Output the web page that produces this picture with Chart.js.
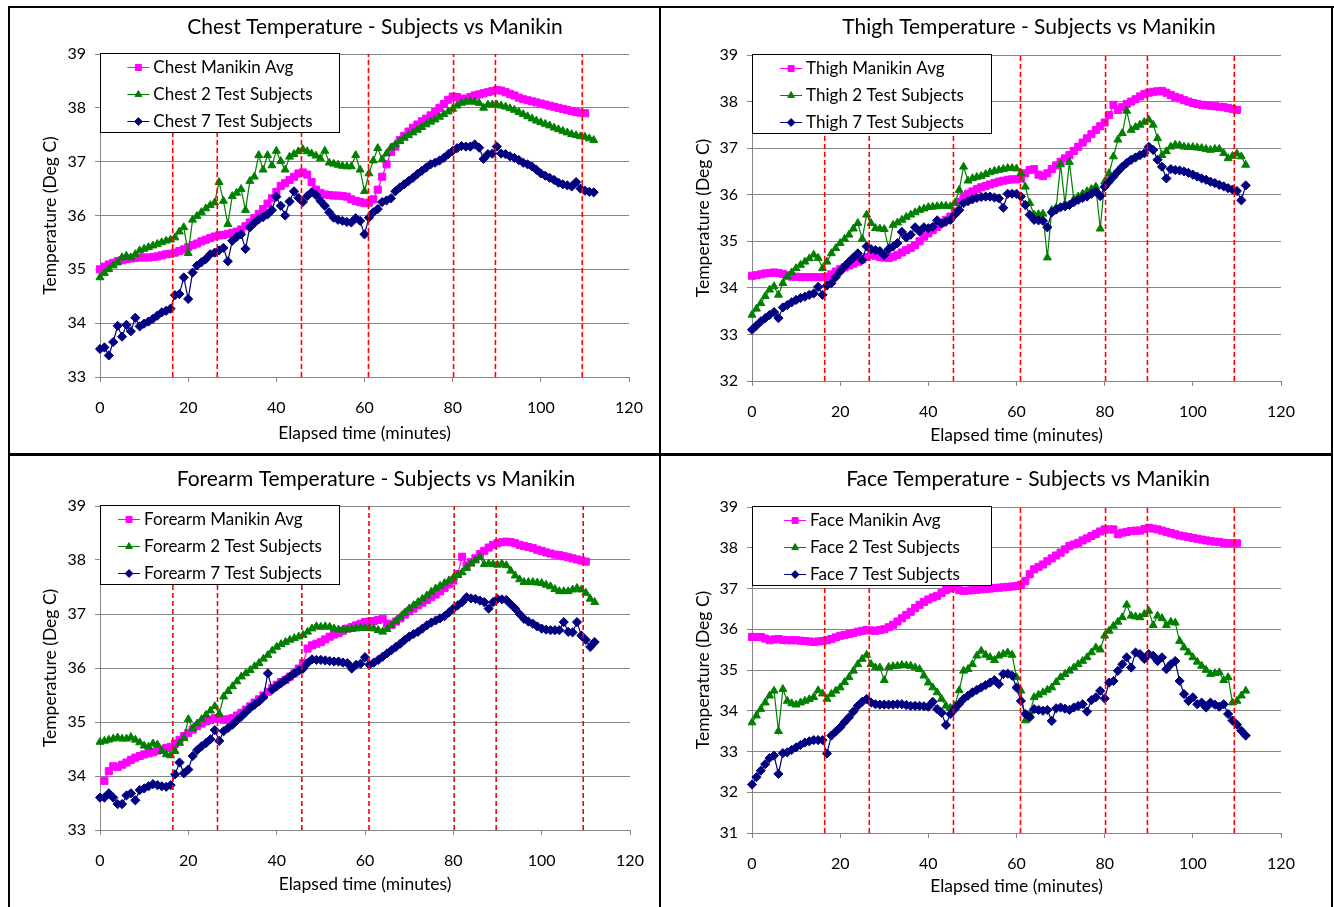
<!DOCTYPE html>
<html><head><meta charset="utf-8">
<script src="https://cdn.jsdelivr.net/npm/chart.js@4.4.0/dist/chart.umd.min.js"></script>
<style>
html,body{margin:0;padding:0;background:#fff;}
body{width:1334px;height:907px;position:relative;overflow:hidden;}
canvas{position:absolute;}
.ln{position:absolute;background:#000;}
</style></head><body>
<canvas id="c1" width="650" height="447" style="left:10px;top:8px;width:650px;height:447px"></canvas>
<canvas id="c2" width="672" height="447" style="left:660px;top:8px;width:672px;height:447px"></canvas>
<canvas id="c3" width="650" height="452" style="left:10px;top:455px;width:650px;height:452px"></canvas>
<canvas id="c4" width="672" height="452" style="left:660px;top:455px;width:672px;height:452px"></canvas>
<div class="ln" style="left:8px;top:6px;width:1326px;height:2px"></div>
<div class="ln" style="left:8px;top:6px;width:2px;height:901px"></div>
<div class="ln" style="left:1331px;top:6px;width:2px;height:901px"></div>
<div class="ln" style="left:659px;top:6px;width:2px;height:901px"></div>
<div class="ln" style="left:8px;top:453px;width:1325px;height:3px"></div>
<script>
const minutes = [0,1,2,3,4,5,6,7,8,9,10,11,12,13,14,15,16,17,18,19,20,21,22,23,24,25,26,27,28,29,30,31,32,33,34,35,36,37,38,39,40,41,42,43,44,45,46,47,48,49,50,51,52,53,54,55,56,57,58,59,60,61,62,63,64,65,66,67,68,69,70,71,72,73,74,75,76,77,78,79,80,81,82,83,84,85,86,87,88,89,90,91,92,93,94,95,96,97,98,99,100,101,102,103,104,105,106,107,108,109,110,111,112];
const phaseMarks = [16.5, 26.6, 45.7, 60.9, 80.2, 89.7, 109.4];
const seriesSuffix = ["Manikin Avg", "2 Test Subjects", "7 Test Subjects"];

const chestRange = [33, 39];
const chestManikin = [35.00,35.05,35.09,35.12,35.15,35.17,35.19,35.20,35.21,35.22,
 35.22,35.22,35.23,35.24,35.26,35.28,35.29,35.31,35.34,35.37,
 35.41,35.45,35.48,35.52,35.55,35.58,35.61,35.63,35.64,35.66,
 35.68,35.70,35.74,35.80,35.87,35.95,36.03,36.12,36.22,36.32,
 36.44,36.55,36.60,36.66,36.72,36.78,36.80,36.76,36.62,36.48,
 36.42,36.39,36.38,36.37,36.37,36.36,36.35,36.30,36.27,36.25,
 36.23,36.24,36.30,36.48,36.72,36.95,37.18,37.28,37.40,37.48,
 37.56,37.63,37.69,37.75,37.80,37.86,37.92,38.00,38.07,38.15,
 38.21,38.20,38.17,38.17,38.20,38.23,38.25,38.27,38.29,38.31,
 38.33,38.32,38.29,38.26,38.23,38.19,38.16,38.14,38.12,38.10,
 38.08,38.06,38.04,38.02,38.00,37.98,37.96,37.94,37.92,37.91,
 37.90,null,null];
const chest2 = [34.85,34.93,35.00,35.07,35.13,35.22,35.25,35.22,35.28,35.35,
 35.38,35.41,35.44,35.47,35.50,35.53,35.55,35.59,35.70,35.78,
 35.30,35.92,35.99,36.06,36.13,36.19,36.24,36.62,36.27,35.84,
 36.36,36.42,36.49,36.10,36.64,36.72,37.12,36.85,37.12,36.93,
 37.20,37.01,36.85,37.09,37.14,37.19,37.23,37.19,37.15,37.11,
 37.06,37.20,36.98,36.96,36.94,36.92,36.91,36.91,37.12,36.85,
 36.45,36.78,37.02,37.25,37.04,37.15,37.26,37.32,37.38,37.44,
 37.49,37.54,37.59,37.64,37.69,37.74,37.78,37.83,37.88,37.93,
 37.98,38.04,38.09,38.11,38.12,38.11,38.09,38.00,38.06,38.06,
 38.06,38.04,38.02,37.99,37.96,37.92,37.88,37.84,37.80,37.76,
 37.73,37.70,37.67,37.63,37.60,37.57,37.54,37.51,37.49,37.47,
 37.46,37.43,37.40];
const chest7 = [33.52,33.55,33.40,33.65,33.95,33.75,33.97,33.85,34.10,33.94,
 33.99,34.03,34.08,34.14,34.20,34.23,34.27,34.52,34.54,34.85,
 34.45,34.94,35.07,35.13,35.19,35.28,35.31,35.35,35.40,35.15,
 35.53,35.60,35.65,35.38,35.78,35.86,35.93,35.97,36.02,36.10,
 36.35,36.18,36.00,36.26,36.45,36.33,36.25,36.36,36.43,36.38,
 36.27,36.18,36.06,35.96,35.92,35.90,35.88,35.87,35.95,35.90,
 35.65,35.96,36.06,36.12,36.25,36.28,36.32,36.45,36.52,36.58,
 36.64,36.70,36.77,36.83,36.89,36.95,36.98,37.02,37.07,37.14,
 37.20,37.25,37.29,37.28,37.28,37.32,37.26,37.05,37.14,37.15,
 37.28,37.15,37.14,37.10,37.07,37.03,36.98,36.95,36.91,36.85,
 36.78,36.74,36.70,36.66,36.61,36.58,36.56,36.54,36.62,36.50,
 36.46,36.44,36.43];

const thighRange = [32, 39];
const thighManikin = [34.26,34.27,34.29,34.31,34.32,34.33,34.32,34.30,34.27,34.24,
 34.24,34.23,34.23,34.23,34.23,34.23,34.23,34.24,34.29,34.35,
 34.40,34.44,34.48,34.52,34.56,34.61,34.66,34.71,34.69,34.66,
 34.65,34.64,34.67,34.71,34.76,34.81,34.86,34.92,35.00,35.10,
 35.17,35.24,35.31,35.39,35.46,35.53,35.64,35.85,35.96,36.02,
 36.07,36.12,36.16,36.19,36.22,36.25,36.28,36.30,36.32,36.33,
 36.33,36.35,36.46,36.53,36.55,36.43,36.40,36.46,36.55,36.63,
 36.71,36.78,36.85,36.94,37.03,37.12,37.21,37.30,37.39,37.47,
 37.55,37.71,37.93,37.82,37.88,37.95,38.00,38.05,38.11,38.16,
 38.19,38.21,38.22,38.23,38.19,38.14,38.10,38.07,38.03,38.00,
 37.97,37.95,37.93,37.92,37.91,37.90,37.89,37.88,37.86,37.84,
 37.82,null,null];
const thigh2 = [33.42,33.55,33.67,33.82,33.96,34.03,33.85,34.10,34.24,34.33,
 34.42,34.49,34.56,34.63,34.71,34.64,34.42,34.56,34.74,34.85,
 34.96,35.05,35.14,35.27,35.39,35.05,35.57,35.39,35.28,35.27,
 35.26,34.85,35.35,35.40,35.46,35.52,35.57,35.62,35.67,35.70,
 35.73,35.74,35.75,35.76,35.76,35.75,35.82,36.10,36.60,36.30,
 36.35,36.38,36.40,36.44,36.48,36.51,36.53,36.55,36.57,36.57,
 36.56,36.46,36.17,35.82,35.57,35.58,35.59,34.65,35.67,35.72,
 36.65,35.80,36.70,35.90,35.96,36.02,36.07,36.12,36.17,35.27,
 36.28,36.46,36.82,37.18,37.32,37.80,37.39,37.45,37.50,37.56,
 37.61,37.50,37.21,36.85,36.93,37.03,37.07,37.06,37.03,37.02,
 37.02,37.01,37.00,36.98,36.96,36.98,36.98,36.89,36.78,36.83,
 36.88,36.82,36.64];
const thigh7 = [33.10,33.19,33.28,33.35,33.42,33.48,33.35,33.58,33.63,33.69,
 33.74,33.78,33.81,33.85,33.88,34.02,33.85,34.05,34.10,34.23,
 34.35,34.46,34.56,34.65,34.74,34.60,34.89,34.83,34.81,34.79,
 34.70,34.83,34.89,34.96,35.20,35.08,35.14,35.30,35.21,35.30,
 35.28,35.31,35.45,35.38,35.42,35.46,35.57,35.67,35.82,35.86,
 35.90,35.93,35.95,35.96,35.96,35.94,35.92,35.72,36.02,36.02,
 36.02,35.96,35.78,35.57,35.46,35.45,35.44,35.30,35.62,35.68,
 35.73,35.75,35.78,35.84,35.89,35.93,35.96,36.02,36.07,35.97,
 36.17,36.28,36.39,36.50,36.60,36.68,36.75,36.80,36.85,36.89,
 37.03,36.96,36.75,36.60,36.35,36.55,36.53,36.52,36.50,36.47,
 36.43,36.39,36.35,36.32,36.28,36.25,36.21,36.18,36.14,36.11,
 36.08,35.88,36.20];

const forearmRange = [33, 39];
const forearmManikin = [null,33.91,34.09,34.18,34.17,34.21,34.25,34.30,34.34,34.37,
 34.40,34.42,34.44,34.47,34.49,34.52,34.54,34.60,34.67,34.74,
 34.80,34.86,34.92,34.97,35.01,35.04,35.07,35.06,35.04,35.05,
 35.07,35.12,35.17,35.23,35.29,35.36,35.42,35.49,35.56,35.63,
 35.69,35.74,35.78,35.84,35.90,35.99,36.09,36.36,36.42,36.45,
 36.48,36.53,36.58,36.62,36.65,36.69,36.73,36.76,36.79,36.82,
 36.85,36.86,36.87,36.89,36.91,36.82,36.80,36.86,36.92,36.99,
 37.05,37.10,37.16,37.21,37.26,37.31,37.36,37.42,37.48,37.55,
 37.62,37.74,38.06,37.90,37.96,38.03,38.11,38.17,38.23,38.28,
 38.31,38.33,38.34,38.33,38.31,38.28,38.26,38.24,38.22,38.19,
 38.17,38.14,38.12,38.10,38.09,38.07,38.05,38.03,38.01,37.99,
 37.97,null,null];
const forearm2 = [34.63,34.65,34.67,34.69,34.71,34.69,34.69,34.72,34.67,34.62,
 34.56,34.54,34.60,34.58,34.46,34.40,34.38,34.46,34.61,34.70,
 35.05,34.88,34.97,35.05,35.13,35.21,35.29,35.15,35.47,35.57,
 35.66,35.75,35.84,35.90,35.96,36.03,36.09,36.17,36.24,36.32,
 36.39,36.44,36.48,36.52,36.55,36.58,36.61,36.67,36.73,36.77,
 36.76,36.77,36.76,36.73,36.71,36.71,36.71,36.72,36.73,36.74,
 36.74,36.74,36.73,36.70,36.67,36.72,36.79,36.87,36.94,37.02,
 37.10,37.16,37.22,37.28,37.34,37.41,37.47,37.52,37.57,37.62,
 37.67,37.72,37.77,37.85,37.93,37.99,38.05,37.92,37.93,37.92,
 37.91,37.93,37.90,37.80,37.71,37.64,37.59,37.59,37.59,37.58,
 37.57,37.54,37.51,37.46,37.42,37.42,37.42,37.45,37.48,37.45,
 37.39,37.28,37.22];
const forearm7 = [33.60,33.60,33.68,33.60,33.48,33.48,33.64,33.68,33.55,33.74,
 33.77,33.81,33.85,33.83,33.81,33.80,33.83,34.03,34.25,34.05,
 34.12,34.37,34.48,34.55,34.61,34.68,34.85,34.65,34.83,34.89,
 34.95,35.03,35.10,35.18,35.26,35.32,35.38,35.46,35.90,35.60,
 35.66,35.72,35.78,35.84,35.90,35.95,35.99,36.09,36.16,36.15,
 36.15,36.14,36.13,36.12,36.12,36.10,36.09,35.99,36.06,36.08,
 36.20,36.06,36.10,36.15,36.21,36.27,36.33,36.39,36.45,36.52,
 36.58,36.63,36.67,36.73,36.79,36.84,36.88,36.92,36.96,37.03,
 37.10,37.16,37.22,37.31,37.29,37.28,37.25,37.22,37.10,37.22,
 37.28,37.27,37.26,37.18,37.10,37.00,36.91,36.86,36.82,36.77,
 36.73,36.71,36.70,36.70,36.70,36.85,36.67,36.66,36.85,36.60,
 36.52,36.39,36.48];

const faceRange = [31, 39];
const faceManikin = [35.81,35.81,35.81,35.77,35.73,35.75,35.76,35.74,35.73,35.73,
 35.73,35.72,35.71,35.70,35.69,35.70,35.71,35.73,35.76,35.80,
 35.84,35.86,35.88,35.91,35.94,35.96,35.98,35.97,35.96,35.98,
 36.00,36.05,36.11,36.19,36.27,36.35,36.43,36.52,36.60,36.67,
 36.73,36.78,36.82,36.89,36.96,37.00,37.04,36.96,36.94,36.95,
 36.96,36.97,36.98,36.99,37.00,37.01,37.02,37.03,37.04,37.05,
 37.06,37.09,37.18,37.35,37.47,37.53,37.59,37.67,37.74,37.81,
 37.88,37.96,38.04,38.08,38.12,38.18,38.23,38.29,38.34,38.40,
 38.45,38.45,38.45,38.33,38.37,38.39,38.41,38.42,38.42,38.46,
 38.49,38.47,38.45,38.42,38.39,38.36,38.33,38.30,38.28,38.26,
 38.24,38.22,38.20,38.18,38.16,38.15,38.14,38.12,38.11,38.11,
 38.11,null,null];
const face2 = [33.71,33.88,34.04,34.20,34.37,34.49,33.50,34.53,34.24,34.18,
 34.15,34.20,34.24,34.28,34.33,34.50,34.42,34.29,34.41,34.49,
 34.57,34.70,34.82,34.98,35.14,35.27,35.37,35.14,35.06,35.06,
 34.75,35.07,35.09,35.10,35.12,35.11,35.10,35.06,35.02,34.86,
 34.69,34.57,34.45,34.29,34.12,34.07,34.12,34.50,34.98,35.02,
 35.14,35.35,35.47,35.37,35.31,35.24,35.35,35.39,35.43,35.37,
 34.82,34.49,33.76,33.92,34.33,34.39,34.45,34.51,34.57,34.70,
 34.82,34.90,34.98,35.06,35.14,35.22,35.31,35.43,35.55,35.50,
 35.84,35.96,36.08,36.18,36.29,36.60,36.33,36.31,36.29,36.37,
 36.45,36.10,36.33,36.27,36.10,36.18,36.16,35.71,35.55,35.43,
 35.31,35.20,35.10,35.00,34.90,34.92,34.94,34.75,34.82,34.20,
 34.24,34.37,34.49];
const face7 = [32.19,32.37,32.53,32.69,32.84,32.90,32.45,32.96,32.98,33.04,
 33.10,33.16,33.22,33.25,33.28,33.28,33.28,32.95,33.39,33.49,
 33.59,33.72,33.84,33.98,34.12,34.22,34.29,34.20,34.16,34.15,
 34.15,34.15,34.15,34.16,34.16,34.14,34.12,34.12,34.12,34.11,
 34.10,34.22,34.04,33.95,33.65,33.92,34.04,34.17,34.29,34.37,
 34.45,34.51,34.57,34.63,34.69,34.75,34.65,34.90,34.91,34.86,
 34.57,34.24,33.92,33.84,34.04,34.02,34.00,34.02,33.75,34.06,
 34.08,34.05,34.02,34.08,34.12,34.16,33.98,34.26,34.33,34.49,
 34.30,34.69,34.73,34.98,35.14,35.31,35.06,35.43,35.39,35.27,
 35.39,35.35,35.22,35.31,35.02,35.14,35.22,34.73,34.41,34.24,
 34.33,34.16,34.20,34.08,34.20,34.15,34.10,34.16,33.92,33.76,
 33.66,33.51,33.39];

const FONT = 'Lato, "Open Sans", sans-serif';
Chart.defaults.font.family = FONT;
Chart.defaults.color = '#000';

const decoPlugin = {
  id: 'deco',
  afterDraw(chart, args, o) {
    const ctx = chart.ctx, ca = chart.chartArea;
    ctx.save();
    ctx.font = o.titleSize + 'px ' + FONT;
    ctx.fillStyle = '#000'; ctx.textAlign = 'center'; ctx.textBaseline = 'middle';
    ctx.fillText(o.title, o.titleX, o.titleY);
    const bx = ca.left + o.box[0], by = ca.top + o.box[1], bw = o.box[2], bh = o.box[3];
    ctx.fillStyle = '#fff'; ctx.fillRect(bx, by, bw, bh);
    ctx.strokeStyle = '#000'; ctx.lineWidth = 1; ctx.strokeRect(bx + 0.5, by + 0.5, bw - 1, bh - 1);
    ctx.font = o.legendSize + 'px ' + FONT;
    const items = chart.data.datasets.filter(d => !d.isMark);
    const maxW = Math.max(...items.map(d => ctx.measureText(d.label).width));
    const sx = bx + (bw - (26 + maxW)) / 2;
    items.forEach((d, i) => {
      const y = by + o.row0 + i * o.rowH;
      ctx.strokeStyle = d.borderColor; ctx.lineWidth = 1;
      ctx.beginPath(); ctx.moveTo(sx, y + 0.5); ctx.lineTo(sx + 22, y + 0.5); ctx.stroke();
      ctx.fillStyle = d.backgroundColor; ctx.strokeStyle = d.borderColor;
      Chart.helpers.drawPoint(ctx, {pointStyle: d.pointStyle, radius: d.pointRadius * 0.85, rotation: 0, borderWidth: 1}, sx + 11, y + 0.5);
      ctx.fillStyle = '#000'; ctx.textAlign = 'left'; ctx.textBaseline = 'middle';
      ctx.fillText(d.label, sx + 26, y + 1);
    });
    ctx.restore();
  }
};

function pts(vals) { return minutes.map((m, i) => ({x: m, y: vals[i]})); }

function makeChart(c) {
  const styles = [
    {color: '#FF00FF', pointStyle: 'rect', r: 5, order: 3},
    {color: '#008000', pointStyle: 'triangle', r: 4.6, order: 2},
    {color: '#000080', pointStyle: 'rectRot', r: 4.6, order: 1}
  ];
  const datasets = c.series.map((vals, i) => ({
    label: c.part + ' ' + seriesSuffix[i],
    data: pts(vals),
    borderColor: styles[i].color, backgroundColor: styles[i].color,
    borderWidth: 1.2, pointStyle: styles[i].pointStyle, pointRadius: styles[i].r,
    pointBorderWidth: 1, order: styles[i].order, clip: false, tension: 0
  }));
  phaseMarks.forEach(m => datasets.push({
    isMark: true, label: '', data: [{x: m, y: c.range[0]}, {x: m, y: c.range[1]}],
    borderColor: '#FF0000', borderWidth: 1.6, borderDash: [5, 3], pointRadius: 0, order: 0, clip: false
  }));
  new Chart(document.getElementById(c.id), {
    type: 'line',
    data: {datasets},
    plugins: [decoPlugin],
    options: {
      responsive: false, animation: false, devicePixelRatio: 1,
      layout: {padding: {top: c.padTop, right: c.padRight, bottom: 0, left: 0}},
      plugins: {
        legend: {display: false}, tooltip: {enabled: false}, title: {display: false},
        deco: {title: c.part + ' Temperature - Subjects vs Manikin', titleSize: 21, titleX: c.titleX, titleY: c.titleY,
               box: [0, -1, 240, 80], row0: 14, rowH: 27, legendSize: 17}
      },
      scales: {
        x: {
          type: 'linear', min: 0, max: 120,
          ticks: {stepSize: 20, font: {size: 16}, padding: 16, color: '#000'},
          grid: {drawOnChartArea: false, tickLength: 5, color: '#868686'},
          border: {color: '#868686'},
          title: {display: true, text: 'Elapsed time (minutes)', font: {size: 17.5}, color: '#000', padding: {top: 0, bottom: c.xTitlePad}},
          afterFit: s => { s.height = c.xH; }
        },
        y: {
          min: c.range[0], max: c.range[1],
          ticks: {stepSize: 1, font: {size: 16}, padding: 9, color: '#000'},
          grid: {color: '#868686', tickLength: 5},
          border: {color: '#868686'},
          title: {display: true, text: 'Temperature (Deg C)', font: {size: 17.5}, color: '#000', padding: {top: c.yTitlePad, bottom: 0}},
          afterFit: s => { s.width = c.yW; }
        }
      }
    }
  });
}

makeChart({id: 'c1', part: 'Chest', range: chestRange, series: [chestManikin, chest2, chest7],
  padTop: 46, padRight: 31, yW: 90, xH: 78, xTitlePad: 11, yTitlePad: 29.5, titleX: 365, titleY: 19});
makeChart({id: 'c2', part: 'Thigh', range: thighRange, series: [thighManikin, thigh2, thigh7],
  padTop: 47, padRight: 51, yW: 92, xH: 74, xTitlePad: 9, yTitlePad: 32.5, titleX: 369, titleY: 19});
makeChart({id: 'c3', part: 'Forearm', range: forearmRange, series: [forearmManikin, forearm2, forearm7],
  padTop: 51, padRight: 30, yW: 90, xH: 77, xTitlePad: 12, yTitlePad: 29.5, titleX: 366, titleY: 24});
makeChart({id: 'c4', part: 'Face', range: faceRange, series: [faceManikin, face2, face7],
  padTop: 52, padRight: 51, yW: 92, xH: 74, xTitlePad: 10, yTitlePad: 32.5, titleX: 368, titleY: 24});
</script>
</body></html>
